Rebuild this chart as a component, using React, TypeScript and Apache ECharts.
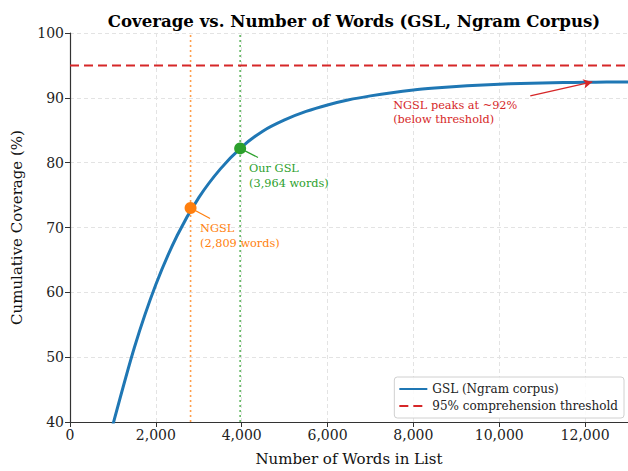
import React, { useEffect, useRef } from 'react';
import * as echarts from 'echarts';

// Curve (every 500 words)
const wordCounts = [1000, 1500, 2000, 2500, 3000, 3500, 4000, 4500, 5000, 5500, 6000, 6500, 7000, 7500, 8000, 8500, 9000, 9500, 10000, 10500, 11000, 11500, 12000, 12500, 13000];
const coverage = [39.6, 51.5, 61.2, 68.8, 74.6, 79.0, 82.4, 84.9, 86.6, 87.9, 88.9, 89.7, 90.3, 90.8, 91.2, 91.5, 91.75, 91.95, 92.1, 92.2, 92.28, 92.35, 92.4, 92.43, 92.45];

const threshold = 95;
const ngslPoint = [2809, 73.0];
const gslPoint = [3964, 82.2];
const ngslLeader = [3263, 71.4];
const gslLeader = [4380, 80.8];
const peakArrowFrom = [10723, 90.3];
const peakArrowTo = [12168, 92.46];
const ngslTextAt = [3030, 70.9];
const gslTextAt = [4172, 80.2];
const peakTextAt = [7529, 90.0];

const xMin = 0, xMax = 13000, xStep = 2000;
const yMin = 40, yMax = 100, yStep = 10;

const BLUE = '#1f77b4';
const RED = '#d62728';
const ORANGE = '#ff7f0e';
const GREEN = '#2ca02c';
const FONT = '"DejaVu Serif", serif';

export default function App() {
  const ref = useRef<HTMLDivElement>(null);
  useEffect(() => {
    if (!ref.current) return;
    const chart = echarts.init(ref.current, null, { renderer: 'svg' });
    const gridLine = { show: true, lineStyle: { color: '#e3e3e3', type: [4, 3], width: 1 } };
    const axisLine = { show: true, lineStyle: { color: '#333', width: 1.2 } };
    chart.setOption({
      animation: false,
      backgroundColor: '#fff',
      textStyle: { fontFamily: FONT },
      title: {
        text: 'Coverage vs. Number of Words (GSL, Ngram Corpus)',
        left: 349, top: 7, textAlign: 'center',
        textStyle: { fontFamily: FONT, fontWeight: 'bold', fontSize: 16.6, color: '#000' },
      },
      grid: { left: 70, right: 0, top: 33, bottom: 48 },
      legend: {
        orient: 'vertical', right: 4, bottom: 53,
        data: ['GSL (Ngram corpus)', '95% comprehension threshold'],
        itemWidth: 28, itemHeight: 10, itemGap: 5,
        padding: [6, 6, 6, 4],
        itemStyle: { opacity: 0 },
        borderColor: '#d0d0d0', borderWidth: 1, borderRadius: 3,
        backgroundColor: 'rgba(255,255,255,0.85)',
        textStyle: { fontFamily: FONT, fontSize: 12, color: '#222' },
      },
      xAxis: {
        type: 'value', min: xMin, max: xMax, interval: xStep,
        name: 'Number of Words in List', nameLocation: 'middle', nameGap: 29,
        nameTextStyle: { fontFamily: FONT, fontSize: 15, color: '#111' },
        axisLine, axisTick: { show: true, length: 5, lineStyle: { color: '#333' } },
        axisLabel: {
          fontFamily: FONT, fontSize: 14, color: '#222', margin: 6, showMaxLabel: false,
          formatter: (v: number) => (v > 12000 ? '' : v.toLocaleString('en-US')),
        },
        splitLine: gridLine,
      },
      yAxis: {
        type: 'value', min: yMin, max: yMax, interval: yStep,
        name: 'Cumulative Coverage (%)', nameLocation: 'middle', nameGap: 46,
        nameTextStyle: { fontFamily: FONT, fontSize: 15, color: '#111' },
        axisLine, axisTick: { show: true, length: 5, lineStyle: { color: '#333' } },
        axisLabel: { fontFamily: FONT, fontSize: 14, color: '#222', margin: 6 },
        splitLine: gridLine,
      },
      series: [
        {
          name: 'ngsl-vline', type: 'line', data: [[ngslPoint[0], yMin], [ngslPoint[0], yMax]],
          symbol: 'none', lineStyle: { color: ORANGE, width: 1.6, type: [2, 3], opacity: 0.75 }, z: 1,
        },
        {
          name: 'gsl-vline', type: 'line', data: [[gslPoint[0], yMin], [gslPoint[0], yMax]],
          symbol: 'none', lineStyle: { color: GREEN, width: 1.6, type: [2, 3], opacity: 0.75 }, z: 1,
        },
        {
          name: '95% comprehension threshold', type: 'line',
          data: [[xMin, threshold], [xMax, threshold]], symbol: 'none', color: RED,
          lineStyle: { color: RED, width: 2, type: [9, 5] }, z: 2,
        },
        {
          name: 'GSL (Ngram corpus)', type: 'line', smooth: 0.25, symbol: 'none', clip: true,
          data: wordCounts.map((w, i) => [w, coverage[i]]), color: BLUE,
          lineStyle: { color: BLUE, width: 3 }, z: 3,
          markLine: {
            silent: true, symbol: ['none', 'arrow'], symbolSize: [7, 9],
            label: { show: false },
            lineStyle: { color: RED, width: 1.5, type: 'solid' },
            data: [[{ coord: peakArrowFrom }, { coord: peakArrowTo }]],
          },
        },
        {
          name: 'ngsl-leader', type: 'line', data: [ngslPoint, ngslLeader], symbol: 'none',
          lineStyle: { color: ORANGE, width: 1.2 }, z: 4,
        },
        {
          name: 'gsl-leader', type: 'line', data: [gslPoint, gslLeader], symbol: 'none',
          lineStyle: { color: GREEN, width: 1.2 }, z: 4,
        },
        {
          name: 'ngsl-point', type: 'scatter', data: [ngslPoint], symbolSize: 12,
          itemStyle: { color: ORANGE, opacity: 1 }, z: 5,
        },
        {
          name: 'gsl-point', type: 'scatter', data: [gslPoint], symbolSize: 12,
          itemStyle: { color: GREEN, opacity: 1 }, z: 5,
        },
      ],
    });
    const px = (p: number[]) => chart.convertToPixel({ gridIndex: 0 }, p) as number[];
    const mk = (p: number[], text: string, color: string) => {
      const [x, y] = px(p);
      return {
        type: 'text', x, y, z: 10,
        style: { text, fill: color, font: `11.3px ${FONT}`, lineHeight: 14.5, align: 'left', verticalAlign: 'top' },
      };
    };
    chart.setOption({
      graphic: [
        mk(ngslTextAt, 'NGSL\n(2,809 words)', ORANGE),
        mk(gslTextAt, 'Our GSL\n(3,964 words)', GREEN),
        mk(peakTextAt, 'NGSL peaks at ~92%\n(below threshold)', RED),
      ],
    });
    return () => chart.dispose();
  }, []);
  return <div ref={ref} style={{ position: 'fixed', left: 0, top: 0, width: 628, height: 471 }} />;
}
